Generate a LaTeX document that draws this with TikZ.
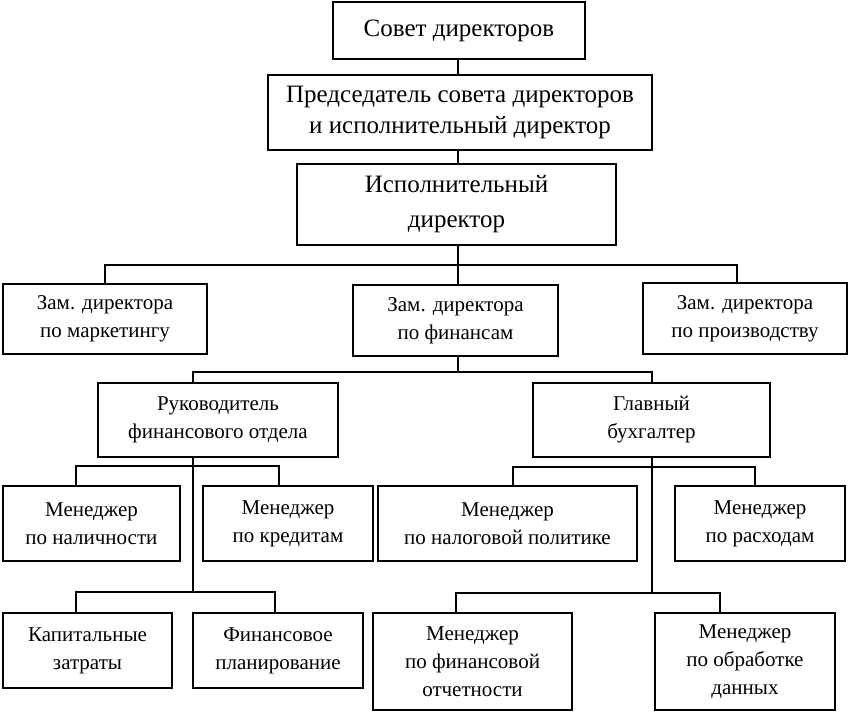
\documentclass[tikz,border=0pt]{standalone}
\usepackage{fontspec}
\setmainfont{Liberation Serif}
\begin{document}
\begin{tikzpicture}[x=1pt,y=-1pt]
\tikzset{
  box/.style={draw,line width=2.8pt,inner sep=0pt,align=center,font=\fontsize{21}{28}\selectfont},
  bigbox/.style={box,font=\fontsize{25}{31}\selectfont},
  ln/.style={line width=2.1pt}
}
\useasboundingbox (0,0) rectangle (850,714);
\newcommand\mybox[7][box]{\node[#1,minimum width={#5-#3},minimum height={#6-#4}] (#2) at ({(#3+#5)/2},{(#4+#6)/2}) {#7};}
% top chain
\mybox[bigbox]{b1}{333}{2}{585}{59}{Совет директоров}
\mybox[bigbox]{b2}{268}{75}{652}{150}{Председатель совета директоров\\и исполнительный директор}
\mybox[bigbox,font=\fontsize{25}{35}\selectfont]{b3}{297}{164}{616}{245}{Исполнительный\\директор}
% deputies
\mybox{m1}{3}{284}{207}{354}{Зам. директора\\по маркетингу}
\mybox{m2}{353}{285}{558}{356}{Зам. директора\\по финансам}
\mybox{m3}{643}{283}{847}{354}{Зам. директора\\по производству}
% heads
\mybox{r1}{98}{383}{338}{457}{Руководитель\\финансового отдела}
\mybox{r2}{533}{383}{770}{457}{Главный\\бухгалтер}
% managers row 3
\mybox{c1}{3}{486}{180}{561}{Менеджер\\по наличности}
\mybox{c2}{203}{486}{373}{561}{Менеджер\\по кредитам}
\mybox{c3}{378}{486}{637}{561}{Менеджер\\по налоговой политике}
\mybox{c4}{675}{486}{845}{561}{Менеджер\\по расходам}
% row 4
\mybox{d1}{3}{613}{172}{688}{Капитальные\\затраты}
\mybox{d2}{193}{613}{363}{688}{Финансовое\\планирование}
\mybox{d3}{373}{613}{572}{710}{Менеджер\\по финансовой\\отчетности}
\mybox{d4}{655}{613}{835}{710}{Менеджер\\по обработке\\данных}
% axis coordinates
\coordinate (xc) at (458,0);
\coordinate (xL) at (193,0);
\coordinate (xR) at (652,0);
\coordinate (jTop) at (458,265);
\coordinate (jMid) at (458,372);
\coordinate (jL1) at (193,466);
\coordinate (jL2) at (193,592);
\coordinate (jR1) at (652,467);
\coordinate (jR2) at (652,593);
\coordinate (x105) at (105,0);
\coordinate (x737) at (737,0);
\coordinate (x76) at (76,0);
\coordinate (x279) at (279,0);
\coordinate (x275) at (275,0);
\coordinate (x513) at (513,0);
\coordinate (x755) at (755,0);
\coordinate (x456) at (456,0);
\coordinate (x720) at (720,0);
% connectors
\draw[ln] (b1.south -| xc) -- (b2.north -| xc);
\draw[ln] (b2.south -| xc) -- (b3.north -| xc);
\draw[ln] (b3.south -| xc) -- (m2.north -| xc);
\draw[ln] (m1.north -| x105) |- (jTop) -| (m3.north -| x737);
\draw[ln] (m2.south -| xc) -- (jMid);
\draw[ln] (r1.north -| xL) |- (jMid) -| (r2.north -| xR);
\draw[ln] (r1.south -| xL) -- (jL2);
\draw[ln] (c1.north -| x76) |- (jL1) -| (c2.north -| x279);
\draw[ln] (d1.north -| x76) |- (jL2) -| (d2.north -| x275);
\draw[ln] (r2.south -| xR) -- (jR2);
\draw[ln] (c3.north -| x513) |- (jR1) -| (c4.north -| x755);
\draw[ln] (d3.north -| x456) |- (jR2) -| (d4.north -| x720);
\end{tikzpicture}
\end{document}
